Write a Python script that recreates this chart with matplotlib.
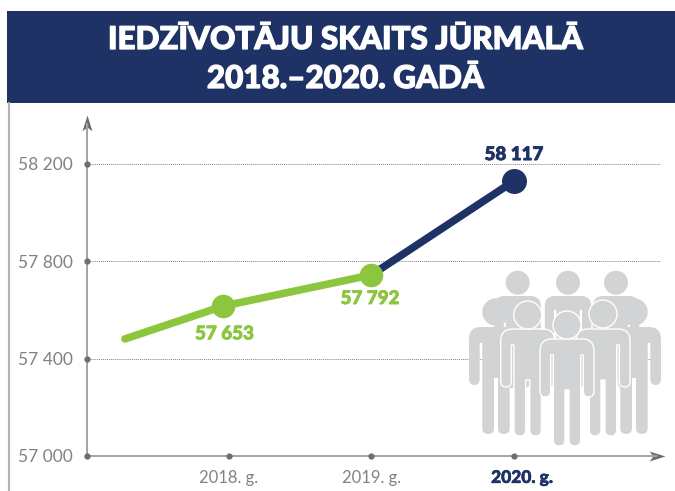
import matplotlib
matplotlib.use('Agg')
import matplotlib.pyplot as plt
import matplotlib.patheffects as pe
from matplotlib.patches import Circle, PathPatch, Rectangle
from matplotlib.path import Path
from matplotlib.transforms import ScaledTranslation

plt.rcParams['font.family'] = ['Lato', 'DejaVu Sans']

W, H = 675, 491
NAVY = '#1f3265'
GREEN = '#8cc63f'
GREY = '#a3a3a3'
DOT = '#6d6e71'
TEXT = '#808285'
PERSON = '#d1d3d4'

title_lines = ['IEDZĪVOTĀJU SKAITS JŪRMALĀ', '2018.–2020. GADĀ']
years = ['2018. g.', '2019. g.', '2020. g.']
year_pos = [0, 1, 2]
y_ticks = [57000, 57400, 57800, 58200]
y_labels = ['57 000', '57 400', '57 800', '58 200']

# heights as drawn in the picture, the labels carry the printed numbers
green_x = [-0.73, -0.04, 1]
green_y = [57481, 57616, 57744]
navy_x = [1, 2]
navy_y = [57744, 58130]
point_x = [-0.04, 1, 2]
point_y = [57616, 57744, 58130]
point_labels = ['57 653', '57 792', '58 117']


def person_path(cx, top, s):
    # outline of one figure below the head, top = shoulder line
    right = [
        (Path.MOVETO, (0, 0)),
        (Path.LINETO, (15, 0)),
        (Path.CURVE3, (27, 0)),
        (Path.CURVE3, (27, 12)),
        (Path.LINETO, (27, 52)),
        (Path.CURVE3, (27, 58)),
        (Path.CURVE3, (21.6, 58)),
        (Path.CURVE3, (16.3, 58)),
        (Path.CURVE3, (16.3, 52)),
        (Path.LINETO, (16.3, 16)),
        (Path.LINETO, (13.7, 16)),
        (Path.LINETO, (13.7, 101)),
        (Path.CURVE3, (13.7, 107)),
        (Path.CURVE3, (8, 107)),
        (Path.CURVE3, (2, 107)),
        (Path.CURVE3, (2, 101)),
        (Path.LINETO, (2, 51)),
        (Path.LINETO, (0, 51)),
    ]
    verts = [p for _, p in right]
    codes = [c for c, _ in right]
    # left half: same points backwards, each keeps the code of the segment it closes
    for i in range(len(right) - 2, -1, -1):
        verts.append((-right[i][1][0], right[i][1][1]))
        codes.append(right[i + 1][0])
    verts.append((0, 0))
    codes.append(Path.CLOSEPOLY)
    return Path([(cx + x * s, top + y * s) for x, y in verts], codes)


fig = plt.figure(figsize=(W / 100, H / 100), dpi=100)

# overlay in picture pixels for the banner and the icon
bg = fig.add_axes([0, 0, 1, 1], zorder=0)
bg.set_xlim(0, W)
bg.set_ylim(H, 0)
bg.axis('off')
bg.add_patch(Rectangle((7, 11), W - 7, 92, fc=NAVY, ec='none'))
bg.plot([8.5, 8.5], [103, H], color='#b3b3b3', lw=1.5)
bold_title = [pe.withStroke(linewidth=0.9, foreground='white')]
bg.text(345.5, 40, title_lines[0], color='white', fontsize=22.6, fontweight='black', ha='center', va='center',
        path_effects=bold_title)
bg.text(345.5, 79, title_lines[1], color='white', fontsize=22.6, fontweight='black', ha='center', va='center',
        path_effects=bold_title)

ax = fig.add_axes([87 / W, (H - 456) / H, (656 - 87) / W, (456 - 124) / H], zorder=1)
ax.patch.set_alpha(0)
ax.set_xlim(-0.996, 2.996)
ax.set_ylim(57000, 58364)
for s in ['top', 'right']:
    ax.spines[s].set_visible(False)
for s in ['left', 'bottom']:
    ax.spines[s].set_color(GREY)
    ax.spines[s].set_linewidth(1.4)

ax.set_yticks(y_ticks)
ax.set_yticklabels(y_labels, fontsize=12.5, color=TEXT)
ax.set_xticks(year_pos)
ax.set_xticklabels(years, fontsize=12, color=TEXT)
ax.tick_params(length=0, axis='y', pad=10)
ax.tick_params(length=0, axis='x', pad=10)
last = ax.get_xticklabels()[2]
last.set_color(NAVY)
last.set_fontweight('black')
last.set_fontsize(12.5)
last.set_path_effects([pe.withStroke(linewidth=0.4, foreground=NAVY)])
last.set_transform(last.get_transform() + ScaledTranslation(8 / 100, 0, fig.dpi_scale_trans))

ax.hlines(y_ticks[1:], 0, 1.007, color='#808080', linestyle=(0, (1, 1)), linewidth=0.7,
          transform=ax.get_yaxis_transform(), clip_on=False, zorder=1)

# notched arrow heads and axis dots
up = Path([(0, 1), (0.55, -0.75), (0, -0.35), (-0.55, -0.75), (0, 1)], closed=True)
rightward = Path([(1, 0), (-0.75, 0.55), (-0.35, 0), (-0.75, -0.55), (1, 0)], closed=True)
ax.plot([0], [1], marker=up, ms=13, color=DOT, transform=ax.transAxes, clip_on=False, mew=0)
ax.plot([1], [0], marker=rightward, ms=13, color=DOT, transform=ax.transAxes, clip_on=False, mew=0)
ax.plot([0] * len(y_ticks), y_ticks, 'o', ms=3.5, color=DOT, transform=ax.get_yaxis_transform(), clip_on=False, zorder=5)
ax.plot(year_pos, [0] * len(year_pos), 'o', ms=3.5, color=DOT, transform=ax.get_xaxis_transform(), clip_on=False, zorder=5)

ax.plot(navy_x, navy_y, color=NAVY, lw=5.5, solid_capstyle='round', zorder=3)
ax.plot(green_x, green_y, color=GREEN, lw=5.5, solid_capstyle='round', zorder=3)
ax.plot(point_x[:2], point_y[:2], 'o', ms=17, color=GREEN, mew=0, zorder=4)
ax.plot(point_x[2:], point_y[2:], 'o', ms=18, color=NAVY, mew=0, zorder=4)

offsets = [(1, -20), (-1, -17), (0, 19)]
colors = [GREEN, GREEN, NAVY]
for px, py, lab, off, col in zip(point_x, point_y, point_labels, offsets, colors):
    ax.annotate(lab, (px, py), xytext=off, textcoords='offset points', color=col, fontsize=13.5,
                fontweight='black', ha='center', va='center',
                path_effects=[pe.withStroke(linewidth=0.6, foreground=col)])

# people icon on top of the chart
fg = fig.add_axes([0, 0, 1, 1], zorder=2)
fg.set_xlim(0, W)
fg.set_ylim(H, 0)
fg.axis('off')
# cx, head y, head r, shoulder y, scale, white outline
people = [
    (517.7, 282.7, 12, 296, 0.86, False),
    (568, 282.7, 12, 296, 0.86, False),
    (616, 282.7, 12, 296, 0.86, False),
    (496, 312, 13.7, 327, 1.0, False),
    (634, 312, 13.7, 327, 1.0, False),
    (527.7, 315, 14, 329, 1.0, True),
    (603, 314, 14, 329, 1.0, True),
    (567, 325, 14, 339, 1.0, True),
]
for cx, hy, r, top, s, outline in people:
    ec = 'white' if outline else 'none'
    fg.add_patch(PathPatch(person_path(cx, top, s), fc=PERSON, ec=ec, lw=1))
    fg.add_patch(Circle((cx, hy), r, fc=PERSON, ec=ec, lw=1))

fig.savefig('out.png', dpi=100, facecolor='white')
